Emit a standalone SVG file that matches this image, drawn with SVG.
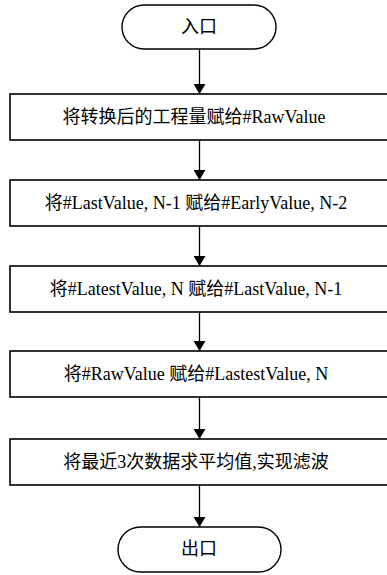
<svg xmlns="http://www.w3.org/2000/svg" width="387" height="575" viewBox="0 0 387 575">
<defs>
<style>
.box{fill:#fff;stroke:#000;stroke-width:1.6}
.term{fill:#fff;stroke:#000;stroke-width:1.4}
.t{font-family:'Noto Sans CJK SC',sans-serif;font-weight:normal;font-size:18px;fill:#000;text-anchor:middle}
.l{font-family:'Liberation Serif',serif}
.c{stroke:#000;stroke-width:1.3;fill:none}
</style>
<marker id="ah" viewBox="0 0 10 12" refX="10" refY="6" markerWidth="10" markerHeight="12" markerUnits="userSpaceOnUse" orient="auto">
<path d="M0,0 L10,6 L0,12 Z" fill="#000"/>
</marker>
</defs>
<rect width="387" height="575" fill="#fff"/>
<g id="connectors">
<line class="c" x1="199.5" y1="49" x2="199.5" y2="94" marker-end="url(#ah)"/>
<line class="c" x1="199.5" y1="140" x2="199.5" y2="180" marker-end="url(#ah)"/>
<line class="c" x1="199.5" y1="226" x2="199.5" y2="266" marker-end="url(#ah)"/>
<line class="c" x1="199.5" y1="312" x2="199.5" y2="351" marker-end="url(#ah)"/>
<line class="c" x1="199.5" y1="397" x2="199.5" y2="439" marker-end="url(#ah)"/>
<line class="c" x1="199.5" y1="485" x2="199.5" y2="527" marker-end="url(#ah)"/>
</g>
<g id="entry">
<rect class="term" x="122" y="5" width="154" height="44" rx="22" ry="22"/>
<text class="t" x="199" y="33">入口</text>
</g>
<g id="step1">
<rect class="box" x="10" y="94" width="380" height="46"/>
<text class="t" x="194" y="123">将转换后的工程量赋给<tspan class="l">#RawValue</tspan></text>
</g>
<g id="step2">
<rect class="box" x="10" y="180" width="380" height="46"/>
<text class="t" x="196" y="209">将<tspan class="l">#LastValue, N-1 </tspan>赋给<tspan class="l">#EarlyValue, N-2</tspan></text>
</g>
<g id="step3">
<rect class="box" x="10" y="266" width="380" height="46"/>
<text class="t" x="196" y="295">将<tspan class="l">#LatestValue, N </tspan>赋给<tspan class="l">#LastValue, N-1</tspan></text>
</g>
<g id="step4">
<rect class="box" x="10" y="351" width="380" height="46"/>
<text class="t" x="196" y="380">将<tspan class="l">#RawValue </tspan>赋给<tspan class="l">#LastestValue, N</tspan></text>
</g>
<g id="step5">
<rect class="box" x="10" y="439" width="380" height="46"/>
<text class="t" x="196" y="468">将最近<tspan class="l">3</tspan>次数据求平均值<tspan class="l">,</tspan>实现滤波</text>
</g>
<g id="exit">
<rect class="term" x="118" y="527" width="163" height="45" rx="22.5" ry="22.5"/>
<text class="t" x="199" y="555">出口</text>
</g>
</svg>
